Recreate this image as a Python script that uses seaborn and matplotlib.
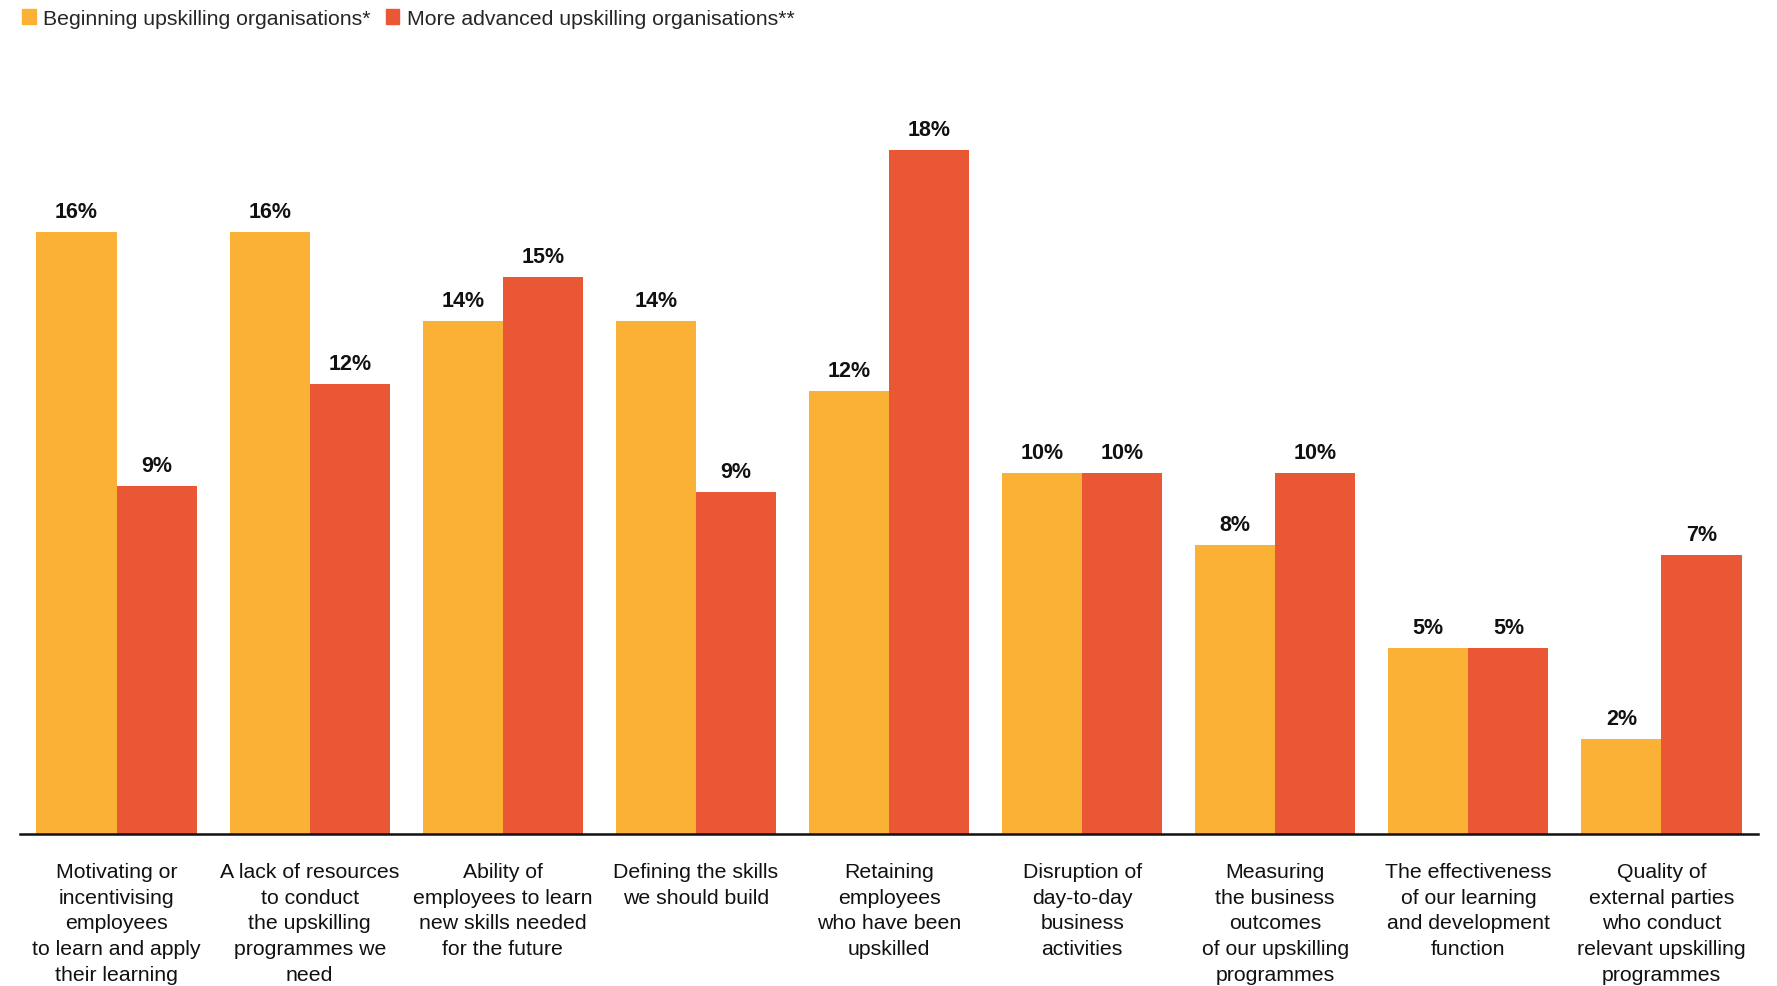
import pandas as pd
import matplotlib.pyplot as plt
import seaborn as sns

# Chart data
categories = [
    'Motivating or\nincentivising\nemployees\nto learn and apply\ntheir learning',
    'A lack of resources\nto conduct\nthe upskilling\nprogrammes we\nneed',
    'Ability of\nemployees to learn\nnew skills needed\nfor the future',
    'Defining the skills\nwe should build',
    'Retaining\nemployees\nwho have been\nupskilled',
    'Disruption of\nday-to-day\nbusiness\nactivities',
    'Measuring\nthe business\noutcomes\nof our upskilling\nprogrammes',
    'The effectiveness\nof our learning\nand development\nfunction',
    'Quality of\nexternal parties\nwho conduct\nrelevant upskilling\nprogrammes',
]
series = ['Beginning upskilling organisations*', 'More advanced upskilling organisations**']
beginning = [15.85, 15.85, 13.5, 13.5, 11.65, 9.5, 7.6, 4.9, 2.5]
advanced = [9.15, 11.85, 14.65, 9.0, 18.0, 9.5, 9.5, 4.9, 7.35]
beginning_labels = ['16%', '16%', '14%', '14%', '12%', '10%', '8%', '5%', '2%']
advanced_labels = ['9%', '12%', '15%', '9%', '18%', '10%', '10%', '5%', '7%']

colors = ['#FAB135', '#EA5735']

df = pd.DataFrame({
    'Category': categories * 2,
    'Series': [series[0]] * len(categories) + [series[1]] * len(categories),
    'Value': beginning + advanced,
})

sns.set_style('white')
plt.rcParams['font.family'] = ['Liberation Sans', 'DejaVu Sans']

fig = plt.figure(figsize=(17.77, 9.87), dpi=100)
ax = fig.add_axes([0.0113, 0.154, 0.978, 0.751])

sns.barplot(data=df, x='Category', y='Value', hue='Series', order=categories,
            hue_order=series, palette=colors, width=0.83, saturation=1,
            errorbar=None, linewidth=0, ax=ax)

# Percentage labels on top of bars
for container, labels in zip(ax.containers, [beginning_labels, advanced_labels]):
    ax.bar_label(container, labels=labels, padding=7, fontsize=15.5,
                 fontweight='bold', color='#111111')

ax.set_xlim(-0.5, len(categories) - 0.5)
ax.set_ylim(0, 19.5)
ax.set_xlabel('')
ax.set_ylabel('')
ax.set_yticks([])
ax.tick_params(axis='x', length=0, pad=20, labelsize=15.3, labelcolor='#111111')
for lbl in ax.get_xticklabels():
    lbl.set_linespacing(1.45)

for side in ['top', 'right', 'left']:
    ax.spines[side].set_visible(False)
ax.spines['bottom'].set_color('#111111')
ax.spines['bottom'].set_linewidth(1.8)

ax.legend_.remove()
handles = [plt.Rectangle((0, 0), 1, 1, color=c) for c in colors]
fig.legend(handles, series, loc='upper left', bbox_to_anchor=(0.004, 1.005),
           ncol=2, frameon=False, fontsize=15.3, handlelength=0.65, handleheight=0.65,
           handletextpad=0.35, columnspacing=0.7, borderaxespad=0.3)

fig.savefig('out.png', dpi=100)
